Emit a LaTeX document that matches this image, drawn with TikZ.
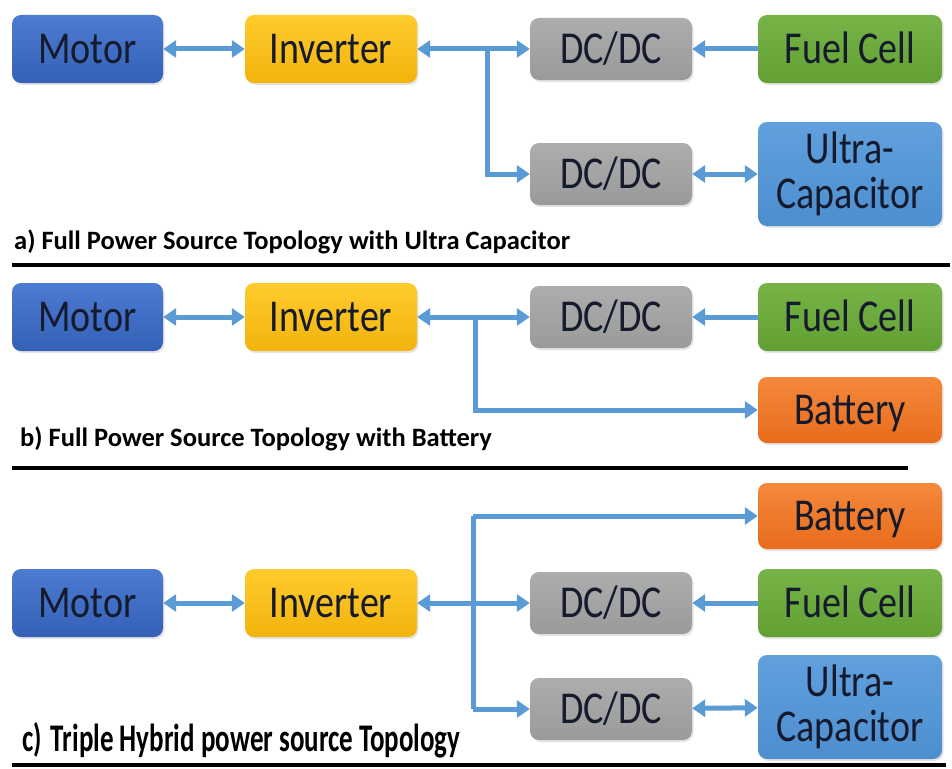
\documentclass[tikz,border=0pt]{standalone}
\usepackage{fontspec}
\usepackage{graphicx}
\setmainfont{Carlito}
\usetikzlibrary{arrows.meta,shadows}
\definecolor{motort}{HTML}{4C7BD2}
\definecolor{motorb}{HTML}{3461B6}
\definecolor{invt}{HTML}{FFCB2E}
\definecolor{invb}{HTML}{F2B40C}
\definecolor{dct}{HTML}{ADADAD}
\definecolor{dcb}{HTML}{9A9A9A}
\definecolor{fct}{HTML}{76B448}
\definecolor{fcb}{HTML}{62A034}
\definecolor{uct}{HTML}{60A0DD}
\definecolor{ucb}{HTML}{4D8ECF}
\definecolor{batt}{HTML}{F5883C}
\definecolor{batb}{HTML}{E86C1C}
\definecolor{arrc}{HTML}{5B9BD5}
\definecolor{txtc}{HTML}{151A2C}
\newcommand{\bt}[1]{\scalebox{1}[1.2]{#1}}
\newcommand{\ct}[1]{\scalebox{1}[1.45]{#1}}
\tikzset{
  blk/.style={rounded corners=9pt, minimum height=68pt, inner sep=0pt, align=center,
    text=txtc, font=\fontsize{38}{45}\selectfont,
    drop shadow={opacity=0.2, shadow xshift=1.5pt, shadow yshift=-2pt}},
  oneline/.style={text height=29pt, text depth=0pt},
  motorbox/.style={blk, oneline, top color=motort, bottom color=motorb, minimum width=151pt},
  invbox/.style={blk, oneline, top color=invt, bottom color=invb, minimum width=172pt},
  dcbox/.style={blk, oneline, top color=dct, bottom color=dcb, minimum width=162pt, minimum height=62pt},
  fcbox/.style={blk, oneline, top color=fct, bottom color=fcb, minimum width=184pt},
  ucbox/.style={blk, top color=uct, bottom color=ucb, minimum width=184pt, minimum height=104pt},
  batbox/.style={blk, oneline, top color=batt, bottom color=batb, minimum width=184pt, minimum height=66pt},
  conn/.style={draw=arrc, line width=5pt, -{Triangle[length=13pt,width=17pt]}},
  dconn/.style={conn, {Triangle[length=13pt,width=17pt]}-{Triangle[length=13pt,width=17pt]}},
  plain/.style={draw=arrc, line width=5pt},
  captext/.style={anchor=base west, inner sep=0pt, text=black, font=\fontsize{26.5}{28}\selectfont\bfseries},
  captextc/.style={anchor=base west, inner sep=0pt, text=black, font=\fontsize{27}{28}\selectfont\bfseries},
  sepline/.style={draw=black, line width=3.5pt}
}
\begin{document}
\begin{tikzpicture}[x=1pt,y=-1pt]
\useasboundingbox (0,0) rectangle (952,768);
\fill[white] (0,0) rectangle (952,768);
% ---- panel a
\node[motorbox] (ma) at (87.5,49) {\bt{Motor}};
\node[invbox] (ia) at (331,49) {\bt{Inverter}};
\node[dcbox] (da1) at (611,49) {\bt{DC/DC}};
\node[fcbox] (fa) at (850,49) {\bt{Fuel Cell}};
\node[dcbox] (da2) at (611,174) {\bt{DC/DC}};
\node[ucbox] (ua) at (850,174) {\bt{Ultra-}\\\bt{Capacitor}};
\coordinate (ja) at (487,49);
\draw[dconn] (ma) -- (ia);
\draw[dconn] (ia) -- (da1);
\draw[conn] (ja) |- (da2);
\draw[conn] (fa) -- (da1);
\draw[dconn] (da2) -- (ua);
\node[captext] (capa) at (14,249) {a) Full Power Source Topology with Ultra Capacitor};
\coordinate (sa1) at (12,265);
\coordinate (sa2) at (950,265);
\draw[sepline] (sa1) -- (sa2);
% ---- panel b
\node[motorbox] (mb) at (87.5,317) {\bt{Motor}};
\node[invbox] (ib) at (331,317) {\bt{Inverter}};
\node[dcbox] (db) at (611,317) {\bt{DC/DC}};
\node[fcbox] (fb) at (850,317) {\bt{Fuel Cell}};
\node[batbox] (bb) at (850,410) {\bt{Battery}};
\coordinate (jb) at (475,317);
\draw[dconn] (mb) -- (ib);
\draw[dconn] (ib) -- (db);
\draw[conn] (jb) |- (bb);
\draw[conn] (fb) -- (db);
\node[captext] (capb) at (20,446) {b) Full Power Source Topology with Battery};
\coordinate (sb1) at (12,468);
\coordinate (sb2) at (908,468);
\draw[sepline] (sb1) -- (sb2);
% ---- panel c
\node[batbox] (bc) at (850,516) {\bt{Battery}};
\node[motorbox] (mc) at (87.5,603) {\bt{Motor}};
\node[invbox] (ic) at (331,603) {\bt{Inverter}};
\node[dcbox] (dc1) at (611,603) {\bt{DC/DC}};
\node[fcbox] (fc) at (850,603) {\bt{Fuel Cell}};
\node[dcbox] (dc2) at (611,709) {\bt{DC/DC}};
\node[ucbox] (uc) at (850,707) {\bt{Ultra-}\\\bt{Capacitor}};
\coordinate (jc1) at (473,516);
\coordinate (jc2) at (473,709);
\draw[plain] (jc1) -- (jc2);
\draw[dconn] (mc) -- (ic);
\draw[dconn] (ic) -- (dc1);
\draw[conn] (jc1) -- (bc);
\draw[conn] (jc2) -- (dc2);
\draw[conn] (fc) -- (dc1);
\draw[dconn] (dc2) -- (uc);
\node[captextc] (capc) at (22,751) {\ct{c)}\hspace{9pt}\ct{Triple Hybrid power source Topology}};
\coordinate (sc1) at (12,765);
\coordinate (sc2) at (946,765);
\draw[sepline] (sc1) -- (sc2);
\end{tikzpicture}
\end{document}
